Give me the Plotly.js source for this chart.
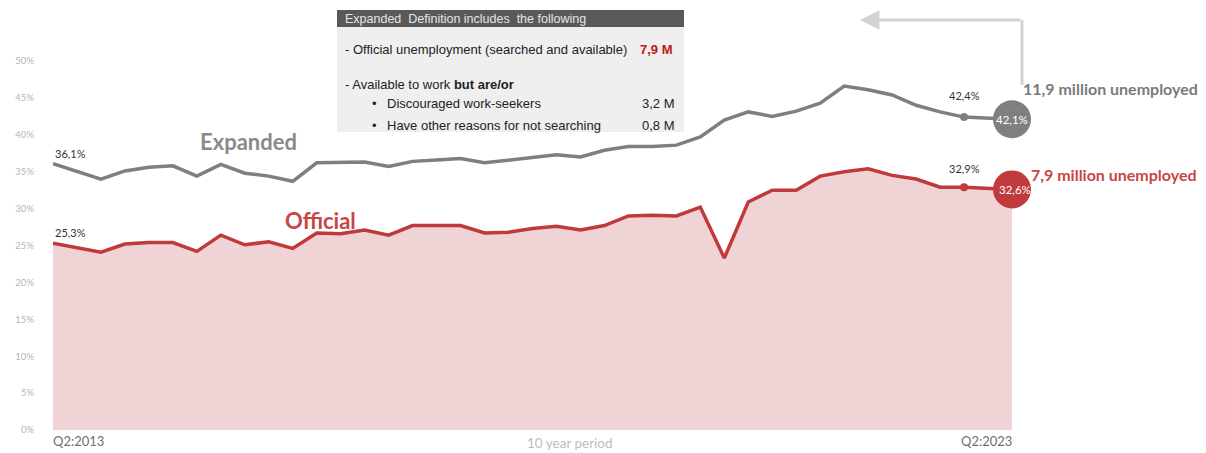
<!DOCTYPE html>
<html>
<head>
<meta charset="utf-8">
<script src="https://cdn.plot.ly/plotly-3.0.1.min.js"></script>
<style>html,body{margin:0;padding:0;background:#fff;}#chart{width:1206px;height:453px;}</style>
</head>
<body>
<div id="chart"></div>
<script>
// ---- data ----
const quarters = ["Q2:2013","Q3:2013","Q4:2013","Q1:2014","Q2:2014","Q3:2014","Q4:2014","Q1:2015","Q2:2015","Q3:2015","Q4:2015",
  "Q1:2016","Q2:2016","Q3:2016","Q4:2016","Q1:2017","Q2:2017","Q3:2017","Q4:2017","Q1:2018","Q2:2018","Q3:2018","Q4:2018",
  "Q1:2019","Q2:2019","Q3:2019","Q4:2019","Q1:2020","Q2:2020","Q3:2020","Q4:2020","Q1:2021","Q2:2021","Q3:2021","Q4:2021",
  "Q1:2022","Q2:2022","Q3:2022","Q4:2022","Q1:2023","Q2:2023"];
const expanded = [36.1,35.0,34.0,35.1,35.6,35.8,34.4,36.0,34.8,34.4,33.7,
  36.2,36.3,36.3,35.7,36.4,36.6,36.8,36.2,36.6,37.0,37.3,37.0,
  37.9,38.4,38.4,38.6,39.7,42.0,43.1,42.5,43.2,44.3,46.6,46.1,
  45.4,44.0,43.1,42.4,42.2,42.1];
const official = [25.3,24.7,24.1,25.2,25.4,25.4,24.2,26.4,25.1,25.5,24.6,
  26.7,26.6,27.1,26.4,27.7,27.7,27.7,26.7,26.8,27.3,27.6,27.1,
  27.7,29.0,29.1,29.0,30.2,23.3,30.9,32.5,32.5,34.4,35.0,35.4,
  34.5,34.0,32.9,32.9,32.8,32.6];
const yTicks = [0,5,10,15,20,25,30,35,40,45,50];
const xLabels = ["Q2:2013","10 year period","Q2:2023"];
const seriesNames = ["Expanded","Official"];
const millions = ["11,9 million unemployed","7,9 million unemployed"];
const boxTitle = "Expanded  Definition includes  the following";
const boxRows = ["- Official unemployment (searched and available)","- Available to work <b>but are/or</b>","Discouraged work-seekers","Have other reasons for not searching"];
const boxValues = ["7,9 M","3,2 M","0,8 M"];
const markIdx = [38, 40];

// ---- helpers ----
const idx = quarters.map((q,i)=>i);
const fmt = v => v.toFixed(1).replace('.', ',') + '%';
const L=53, R=1012, T=61, B=430;
const px = x => (x-L)/(R-L);
const py = y => (B-y)/(B-T);

const GRAY='#7f7f7f', RED='#c0393b';
const calib = 'Lato, "Open Sans", sans-serif';
const narrow = '"Liberation Sans Narrow", "Arial Narrow", "Liberation Sans", sans-serif';

const traces = [
  {x: idx, y: official, type:'scatter', mode:'lines', fill:'tozeroy', fillcolor:'#f0d4d5',
   line:{color:RED, width:3.5}, hoverinfo:'skip', cliponaxis:false},
  {x: idx, y: expanded, type:'scatter', mode:'lines',
   line:{color:GRAY, width:3.5}, hoverinfo:'skip', cliponaxis:false},
  {x: markIdx, y: markIdx.map(i=>expanded[i]), type:'scatter', mode:'markers', cliponaxis:false,
   marker:{color:GRAY, size:[8,38], opacity:1, line:{width:0}}, hoverinfo:'skip'},
  {x: markIdx, y: markIdx.map(i=>official[i]), type:'scatter', mode:'markers', cliponaxis:false,
   marker:{color:RED, size:[8,38], opacity:1, line:{width:0}}, hoverinfo:'skip'}
];

const ann = [];
function txt(x, y, text, font, opts) {
  ann.push(Object.assign({x:px(x), y:py(y), xref:'paper', yref:'paper', text:text, showarrow:false,
    xanchor:'left', yanchor:'middle', font:font}, opts||{}));
}
// start labels
ann.push({x:0, y:expanded[0], xref:'x', yref:'y', text:fmt(expanded[0]), showarrow:false, xanchor:'left', yanchor:'bottom', yshift:2, font:{family:calib, size:11, color:'#333'}});
ann.push({x:0, y:official[0], xref:'x', yref:'y', text:fmt(official[0]), showarrow:false, xanchor:'left', yanchor:'bottom', yshift:2, font:{family:calib, size:11, color:'#333'}});
// marker labels
ann.push({x:markIdx[0], y:expanded[markIdx[0]], xref:'x', yref:'y', text:fmt(expanded[markIdx[0]]), showarrow:false, xanchor:'center', yanchor:'bottom', yshift:13, font:{family:calib, size:11, color:'#333'}});
ann.push({x:markIdx[0], y:official[markIdx[0]], xref:'x', yref:'y', text:fmt(official[markIdx[0]]), showarrow:false, xanchor:'center', yanchor:'bottom', yshift:10, font:{family:calib, size:11, color:'#333'}});
// circle labels
ann.push({x:markIdx[1], y:expanded[markIdx[1]], xref:'x', yref:'y', text:fmt(expanded[markIdx[1]]), showarrow:false, xanchor:'center', yanchor:'middle', font:{family:calib, size:11.5, color:'#fff'}});
ann.push({x:markIdx[1], y:official[markIdx[1]], xref:'x', yref:'y', text:fmt(official[markIdx[1]]), showarrow:false, xanchor:'center', yanchor:'middle', xshift:3, font:{family:calib, size:11.5, color:'#fff'}});
// series names
txt(248, 141, '<b>'+seriesNames[0]+'</b>', {family:calib, size:22, color:'#8a8a8a'}, {xanchor:'center'});
txt(320, 220, '<b>'+seriesNames[1]+'</b>', {family:calib, size:22, color:'#c94545'}, {xanchor:'center'});
// millions
txt(1021, 89, '<b>'+millions[0]+'</b>', {family:calib, size:16, color:'#7a7a7a'});
txt(1029, 174, '<b>'+millions[1]+'</b>', {family:calib, size:16, color:'#c94545'});
// x labels
ann.push({x:0, y:py(441), xref:'x', yref:'paper', text:xLabels[0], showarrow:false, xanchor:'left', yanchor:'middle', xshift:-2, font:{family:calib, size:13, color:'#6f6f6f'}});
txt(570, 443, xLabels[1], {family:calib, size:13.5, color:'#bdbdbd'}, {xanchor:'center'});
ann.push({x:40, y:py(441), xref:'x', yref:'paper', text:xLabels[2], showarrow:false, xanchor:'right', yanchor:'middle', xshift:2, font:{family:calib, size:13, color:'#6f6f6f'}});
// box texts
txt(343, 19, boxTitle, {family:narrow, size:12.5, color:'#e6e6e6'});
txt(343, 49, boxRows[0], {family:narrow, size:13, color:'#222'});
txt(638, 49, '<b>'+boxValues[0]+'</b>', {family:narrow, size:13, color:'#c0161c'});
txt(343, 84, boxRows[1], {family:narrow, size:13, color:'#222'});
txt(370, 104, '•', {family:narrow, size:13, color:'#222'});
txt(385, 104, boxRows[2], {family:narrow, size:13, color:'#222'});
txt(640, 104, boxValues[1], {family:narrow, size:13, color:'#222'});
txt(370, 125, '•', {family:narrow, size:13, color:'#222'});
txt(385, 125, boxRows[3], {family:narrow, size:13, color:'#222'});
txt(640, 125, boxValues[2], {family:narrow, size:13, color:'#222'});
// arrow (left pointing)
ann.push({x:px(860), y:py(20), ax:px(1022), ay:py(20), xref:'paper', yref:'paper', axref:'paper', ayref:'paper', text:'', showarrow:true, arrowhead:2, arrowsize:1.3, arrowwidth:3, arrowcolor:'#d3d3d3'});

const shapes = [
  {type:'rect', xref:'paper', yref:'paper', x0:px(337), x1:px(684), y0:py(132), y1:py(27), fillcolor:'#efefef', line:{width:0}, layer:'below'},
  {type:'rect', xref:'paper', yref:'paper', x0:px(337), x1:px(684), y0:py(27), y1:py(10), fillcolor:'#595959', line:{width:0}, layer:'below'},
  {type:'line', xref:'paper', yref:'paper', x0:px(1022), x1:px(1022), y0:py(85), y1:py(20), line:{color:'#d3d3d3', width:3}}
];

const layout = {
  width:1206, height:453,
  margin:{l:L, r:1206-R, t:T, b:453-B, pad:0},
  paper_bgcolor:'#fff', plot_bgcolor:'#fff',
  showlegend:false,
  xaxis:{range:[0,40], showgrid:false, zeroline:false, showline:false, showticklabels:false, ticks:''},
  yaxis:{range:[0,50], tickvals:yTicks, ticktext:yTicks.map(v=>v+'%'), showgrid:false, zeroline:false, showline:false,
         ticks:'', ticklabelstandoff:18, tickfont:{family:calib, size:9.5, color:'#b5b5b5'}},
  annotations: ann,
  shapes: shapes
};
Plotly.newPlot('chart', traces, layout, {staticPlot:true, displayModeBar:false});
</script>
</body>
</html>
